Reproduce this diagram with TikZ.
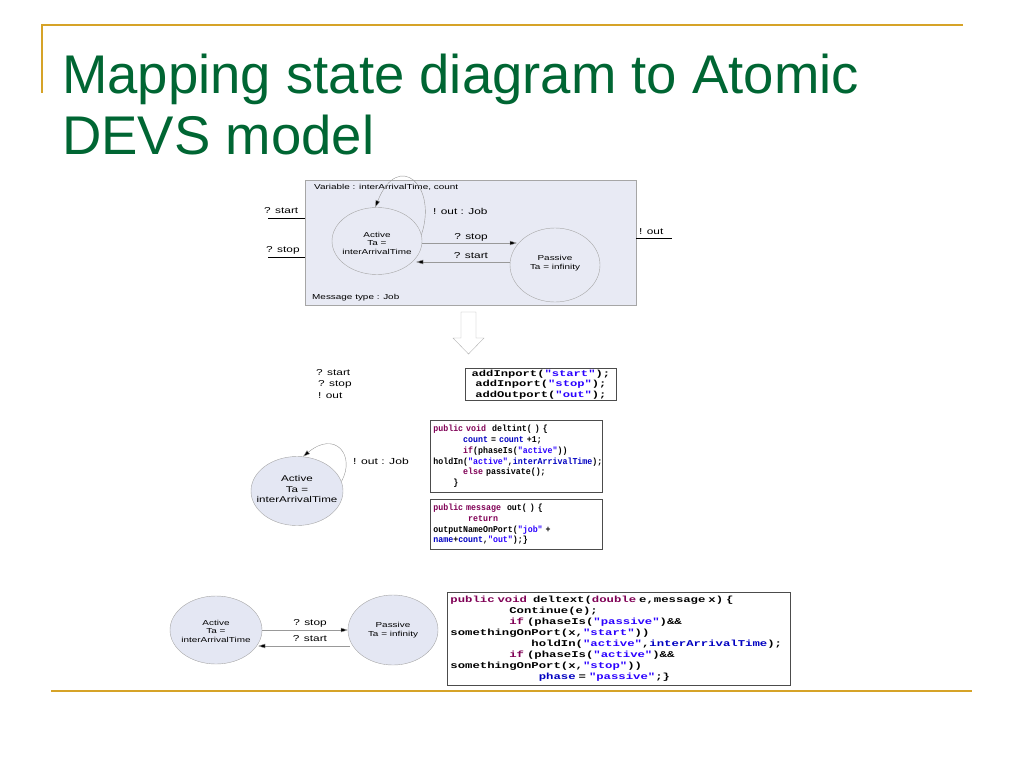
\documentclass[tikz,border=0pt]{standalone}
\usepackage{fontspec}
\setmainfont{Liberation Sans}
\newfontfamily\dgfont[FakeStretch=1.38]{Liberation Sans}
\newfontfamily\codefont[FakeStretch=1.38]{Liberation Mono}
\newfontfamily\codenarrow[FakeStretch=0.92]{Liberation Mono}
\usetikzlibrary{arrows.meta,shapes.geometric,calc}
\definecolor{titlegreen}{RGB}{0,102,51}
\definecolor{rulegold}{RGB}{214,163,40}
\definecolor{boxfill}{RGB}{232,234,244}
\definecolor{statefill}{RGB}{228,231,243}
\definecolor{kw}{RGB}{127,0,85}
\definecolor{strc}{RGB}{42,0,255}
\definecolor{fld}{RGB}{0,0,192}
\newcommand{\K}[1]{\textcolor{kw}{#1}}
\newcommand{\Sx}[1]{\textcolor{strc}{#1}}
\newcommand{\F}[1]{\textcolor{fld}{#1}}
\newcommand{\fixspace}{\fontdimen2\font=\fontcharwd\font120\relax\fontdimen3\font=0pt\fontdimen4\font=0pt\relax}
\tikzset{
  lbl/.style={font=\dgfont\fontsize{8.6}{10}\selectfont, inner sep=0pt},
  sm/.style={font=\dgfont\fontsize{7.2}{8.5}\selectfont, inner sep=0pt},
  st/.style={ellipse, draw=gray!70, thin, inner sep=0pt},
  stf/.style={st, fill=statefill},
  sttext/.style={align=center, inner sep=0pt, font=\dgfont\fontsize{7.2}{8.5}\selectfont},
  tr/.style={draw=gray!80, thin, -{Triangle[length=7pt,width=4.5pt,fill=black]}},
  codebox/.style={draw=black!70, line width=0.8pt, align=left, anchor=north west, inner sep=3pt, font=\codefont\bfseries\fontsize{8.8}{10.6}\selectfont\fixspace},
  narrowbox/.style={codebox, font=\codenarrow\bfseries\fontsize{9}{10.8}\selectfont\fixspace},
  port/.style={draw=black, thin},
}
\begin{document}
\begin{tikzpicture}[x=1pt,y=-1pt]
\useasboundingbox (0,0) rectangle (1024,768);
% title rules
\draw[rulegold, line width=1.5pt] (963,25) -- (42,25) -- (42,93);
\draw[rulegold, line width=1.5pt] (51,691) -- (972,691);
\node[anchor=base west, text=titlegreen, font=\fontsize{54.5}{62}\selectfont, inner sep=0pt] (t1) at (62,93) {Mapping state diagram to Atomic};
\node[anchor=base west, text=titlegreen, font=\fontsize{54.5}{62}\selectfont, inner sep=0pt] (t2) at (62,154) {DEVS model};

% top model box
\node[draw=gray!70, fill=boxfill, minimum width=331pt, minimum height=125pt, anchor=north west, inner sep=0pt] (mbox) at (305,180) {};
\node[sm, anchor=west] (var) at (314,187) {Variable : interArrivalTime, count};
\node[sm, anchor=west] (msg) at (312,298) {Message type : Job};
\node[st, minimum width=90pt, minimum height=67pt] (act1) at (377,241) {};
\node[sttext] (act1t) at (377,243) {Active\\Ta =\\interArrivalTime};
\node[st, minimum width=90pt, minimum height=74pt] (pas1) at (555,265) {};
\node[sttext] (pas1t) at (555,263) {Passive\\Ta = infinity};
\draw[tr] (act1.8) .. controls (438,185) and (398,150) .. (act1.93);
\node[lbl, anchor=west] (oj1) at (433,211) {! out : Job};
\draw[tr] ($(act1.east)+(0,2)$) -- ($(pas1.west)+(7,-22)$);
\node[lbl] (lstop1) at (471,237) {? stop};
\draw[tr] ($(pas1.west)+(0,-3)$) -- ($(act1.east)+(-6,21)$);
\node[lbl] (lstart1) at (471,256) {? start};
% ports
\node[lbl, anchor=base west] (pst) at (264,213) {? start};
\coordinate (ps1) at (268,218);
\draw[port] (ps1) -- (ps1 -| mbox.west);
\node[lbl, anchor=base west] (psp) at (266,252) {? stop};
\coordinate (ps2) at (268,257);
\draw[port] (ps2) -- (ps2 -| mbox.west);
\node[lbl, anchor=base west] (pout) at (639,234) {! out};
\coordinate (po1) at (672,238);
\draw[port] (po1 -| mbox.east) -- (po1);

% hollow down arrow
\draw[gray!60, fill=white, thin] (461,312) -- (476,312) -- (476,338) -- (484,338) -- (468.5,354) -- (453,338) -- (461,338) -- cycle;

% port list
\node[lbl, anchor=base west] (l1) at (316,375) {? start};
\node[lbl, anchor=base west] (l2) at (318,386) {? stop};
\node[lbl, anchor=base west] (l3) at (318,398) {! out};
\node[codebox, align=center, minimum width=151pt, inner sep=1.5pt] (c1) at (465,368) {addInport(\Sx{"start"});\\addInport(\Sx{"stop"});\\addOutport(\Sx{"out"});};

% deltint
\node[narrowbox, text width=166pt, minimum height=72pt] (c2) at (430,420) {\K{public void}\ \ deltint( ) \{\\
\hphantom{XXXXXX}\F{count} = \F{count} +1;\\
\hphantom{XXXXXX}\K{if}(phaseIs(\Sx{"active"}))\\
holdIn(\Sx{"active"},\F{interArrivalTime});\\
\hphantom{XXXXXX}\K{else} passivate();\\
\hphantom{XXXX}\}};
\node[narrowbox, text width=166pt, minimum height=50pt] (c3) at (430,499) {\K{public message}\ \ out( ) \{\\
\hphantom{XXXXXXX}\K{return}\\
outputNameOnPort(\Sx{"job"} +\\
\F{name}+\F{count},\Sx{"out"});\}};

% middle state
\node[stf, minimum width=92pt, minimum height=69pt] (act2) at (297,491) {};
\node[sttext, font=\dgfont\fontsize{8.4}{10.5}\selectfont] (act2t) at (297,489) {Active\\Ta =\\interArrivalTime};
\draw[tr] (act2.12) .. controls (356,455) and (335,430) .. (act2.80);
\node[lbl, anchor=west, font=\dgfont\fontsize{8.8}{10}\selectfont] (oj2) at (353,461) {! out : Job};

% bottom states
\node[stf, minimum width=92pt, minimum height=68pt] (act3) at (216,630) {};
\node[sttext] (act3t) at (216,631) {Active\\Ta =\\interArrivalTime};
\node[stf, minimum width=90pt, minimum height=70pt] (pas3) at (393,630) {};
\node[sttext] (pas3t) at (393,630) {Passive\\Ta = infinity};
\draw[tr] (act3.east) -- (pas3.west);
\node[lbl] (lstop3) at (310,623) {? stop};
\draw[tr] ($(pas3.west)+(2,16)$) -- ($(act3.east)+(-4,16)$);
\node[lbl] (lstart3) at (310,639) {? start};

% deltext
\node[codebox, text width=337pt, minimum height=93pt, font=\codefont\bfseries\fontsize{8.9}{11}\selectfont\fixspace] (c4) at (447,592) {\K{public void}\ \ deltext(\K{double} e,message x) \{\\
\hphantom{XXXXXXXX}Continue(e);\\
\hphantom{XXXXXXXX}\K{if} (phaseIs(\Sx{"passive"})\&\&\\
somethingOnPort(x,\Sx{"start"}))\\
\hphantom{XXXXXXXXXXX}holdIn(\Sx{"active"},\F{interArrivalTime});\\
\hphantom{XXXXXXXX}\K{if} (phaseIs(\Sx{"active"})\&\&\\
somethingOnPort(x,\Sx{"stop"}))\\
\hphantom{XXXXXXXXXXXX}\F{phase} = \Sx{"passive"};\}};
\end{tikzpicture}
\end{document}
